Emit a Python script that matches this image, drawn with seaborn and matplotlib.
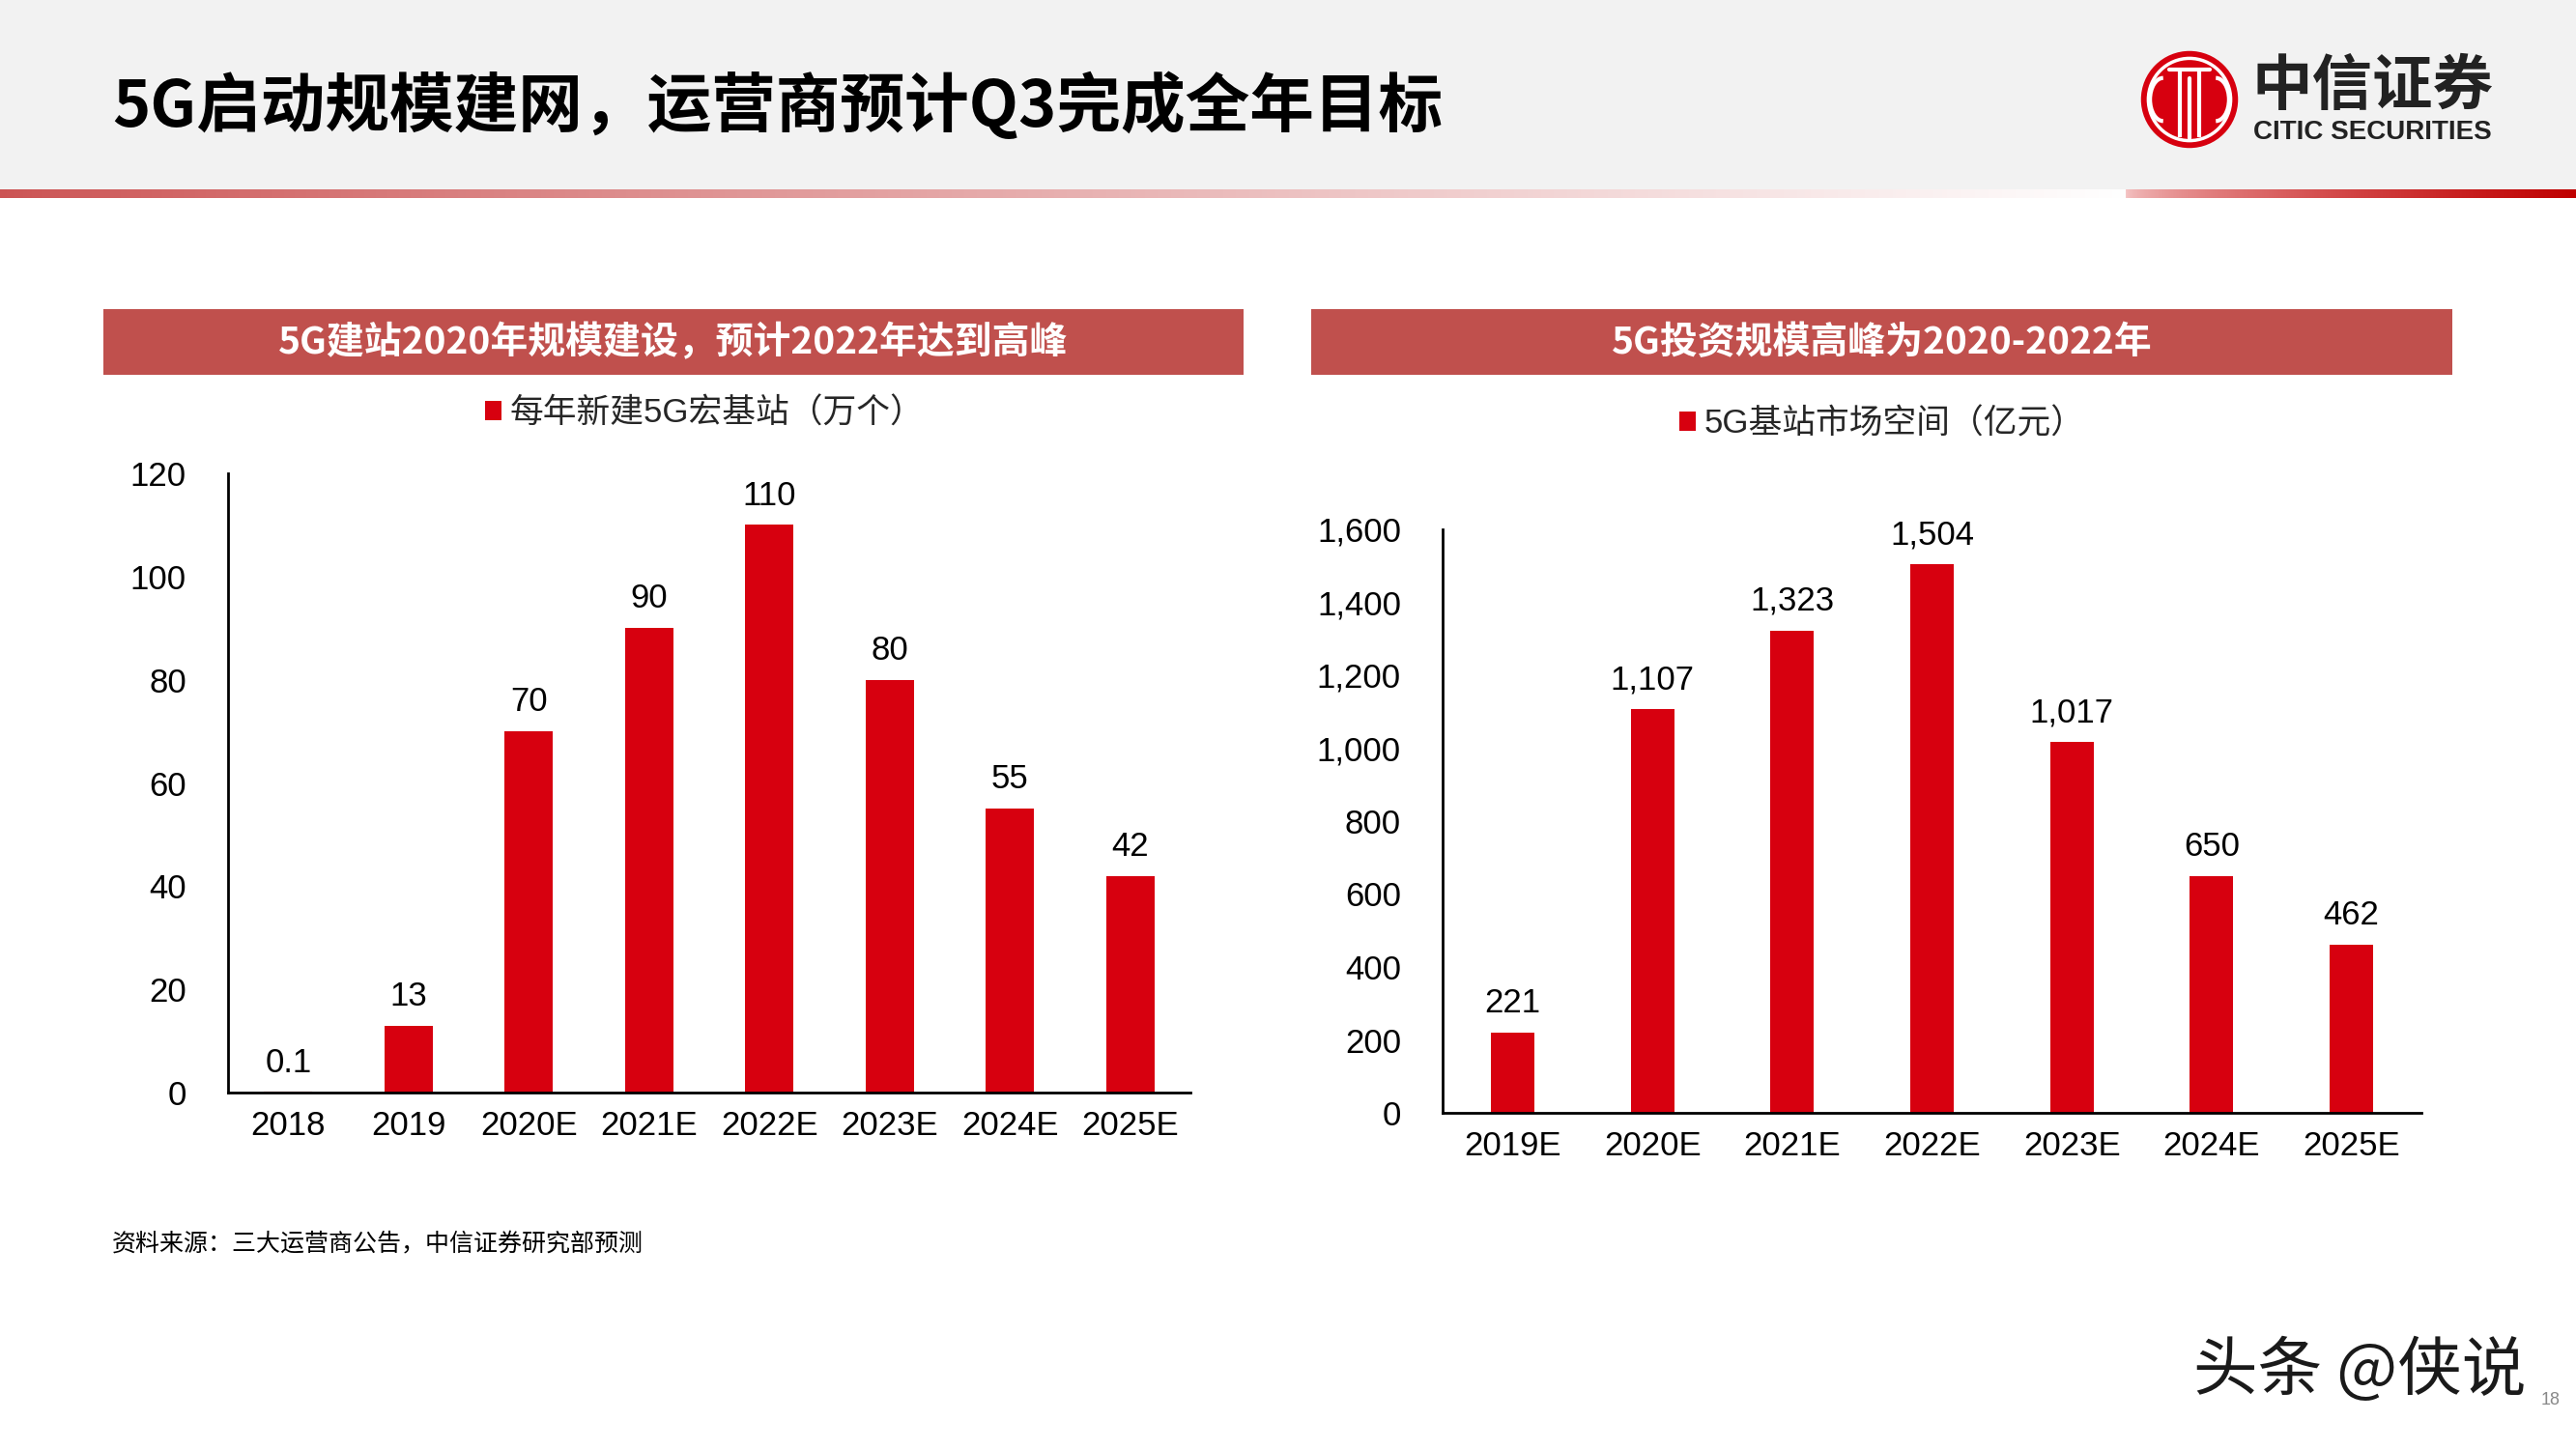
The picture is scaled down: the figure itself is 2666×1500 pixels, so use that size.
import numpy as np
import pandas as pd
import matplotlib
matplotlib.use("Agg")
import matplotlib.pyplot as plt
import seaborn as sns
from matplotlib.patches import Rectangle, Circle, Arc
from matplotlib.ticker import FixedLocator, FuncFormatter

# ---------------- data ----------------
years_left = ['2018', '2019', '2020E', '2021E', '2022E', '2023E', '2024E', '2025E']
stations_new = [0.1, 13, 70, 90, 110, 80, 55, 42]
stations_labels = ['0.1', '13', '70', '90', '110', '80', '55', '42']

years_right = ['2019E', '2020E', '2021E', '2022E', '2023E', '2024E', '2025E']
market_size = [221, 1107, 1323, 1504, 1017, 650, 462]

left_ticks = [0, 20, 40, 60, 80, 100, 120]
right_ticks = [0, 200, 400, 600, 800, 1000, 1200, 1400, 1600]

main_title = '5G启动规模建网，运营商预计Q3完成全年目标'
left_title = '5G建站2020年规模建设，预计2022年达到高峰'
right_title = '5G投资规模高峰为2020-2022年'
left_legend = '每年新建5G宏基站（万个）'
right_legend = '5G基站市场空间（亿元）'
source_note = '资料来源：三大运营商公告，中信证券研究部预测'

RED = '#D7000F'
BAR_TITLE = '#C0504D'

sns.set_style('white')
plt.rcParams['font.family'] = ['Liberation Sans', 'Noto Sans CJK SC', 'DejaVu Sans']
plt.rcParams['axes.unicode_minus'] = False

W, H = 2666, 1500
fig = plt.figure(figsize=(W / 100, H / 100), dpi=100)
fig.patch.set_facecolor('white')

def fx(px):
    return px / W

def fy(py):
    return 1 - py / H

# ---------------- header ----------------
fig.patches.append(Rectangle((0, fy(196)), 1, 196 / H, transform=fig.transFigure,
                             facecolor='#F2F2F2', edgecolor='none', zorder=-5))
ax_s = fig.add_axes([0, fy(205), 1, 9 / H])
xs = np.arange(W)
grad = np.ones((1, W, 3))
split = 2200
t = np.clip(xs[:split] / split, 0, 1)
start = np.array([0.80, 0.33, 0.33])
for c in range(3):
    grad[0, :split, c] = start[c] + (1 - start[c]) * t ** 0.9
t2 = (xs[split:] - split) / (W - split)
s2 = np.array([0.96, 0.78, 0.78])
e2 = np.array([0.75, 0.0, 0.0])
for c in range(3):
    grad[0, split:, c] = s2[c] + (e2[c] - s2[c]) * t2 ** 0.6
ax_s.imshow(grad, aspect='auto', extent=[0, 1, 0, 1])
ax_s.axis('off')

fig.text(fx(116), fy(110), main_title, fontsize=48, fontweight='bold',
         family=['Noto Sans CJK SC', 'DejaVu Sans'], color='black', ha='left', va='center')

# logo
ax_logo = fig.add_axes([fx(2214), fy(155), 104 / W, 104 / H])
ax_logo.set_zorder(5)
ax_logo.set_xlim(-1.05, 1.05)
ax_logo.set_ylim(-1.05, 1.05)
ax_logo.set_aspect('equal')
ax_logo.axis('off')
ax_logo.add_patch(Circle((0, 0), 1.0, color=RED))
ax_logo.add_patch(Circle((0, 0), 0.86, fill=False, ec='white', lw=2.5))
for xv in (-0.2, 0.2):
    ax_logo.plot([xv, xv], [-0.78, 0.62], color='white', lw=3, solid_capstyle='butt')
ax_logo.plot([-0.42, 0.42], [0.62, 0.62], color='white', lw=3)
ax_logo.plot([0, 0], [-0.8, 0.45], color='white', lw=3)
ax_logo.add_patch(Arc((-0.55, 0), 0.55, 0.9, theta1=90, theta2=270, color='white', lw=3))
ax_logo.add_patch(Arc((0.55, 0), 0.55, 0.9, theta1=-90, theta2=90, color='white', lw=3))

fig.text(fx(2330), fy(90), '中信证券', fontsize=45, fontweight='bold',
         family=['Noto Sans CJK SC'], color='#222222', ha='left', va='center')
fig.text(fx(2332), fy(137), 'CITIC SECURITIES', fontsize=20, fontweight='bold',
         family=['Liberation Sans'], color='#222222', ha='left', va='center')

# ---------------- panel title bars ----------------
for (x0, x1, txt) in [(107, 1287, left_title), (1357, 2538, right_title)]:
    fig.patches.append(Rectangle((fx(x0), fy(388)), (x1 - x0) / W, 68 / H,
                                 transform=fig.transFigure, facecolor=BAR_TITLE,
                                 edgecolor='none', zorder=1))
    fig.text(fx((x0 + x1) / 2), fy(355), txt, fontsize=28, fontweight='bold',
             family=['Noto Sans CJK SC'], color='white', ha='center', va='center', zorder=2)

# ---------------- charts ----------------
def style_axes(ax, n, ticks):
    for sp in ['top', 'right']:
        ax.spines[sp].set_visible(False)
    for sp in ['left', 'bottom']:
        ax.spines[sp].set_color('black')
        ax.spines[sp].set_linewidth(2)
    ax.set_xlim(-0.5, n - 0.5)
    ax.set_ylim(ticks[0], ticks[-1])
    ax.yaxis.set_major_locator(FixedLocator(ticks))
    ax.tick_params(axis='y', which='major', direction='in', length=8.5, width=2,
                   pad=31, labelsize=25, colors='black')
    ax.tick_params(axis='x', which='major', length=0, pad=13, labelsize=25, colors='black')
    ax.xaxis.set_minor_locator(FixedLocator([k - 0.5 for k in range(n + 1)]))
    ax.tick_params(axis='x', which='minor', direction='in', length=8.5, width=2, color='black')
    ax.set_xlabel('')
    ax.set_ylabel('')
    ax.grid(False)
    ax.set_facecolor('none')

ax1 = fig.add_axes([fx(236), fy(1131), (1232 - 236) / W, (1131 - 490) / H])
df1 = pd.DataFrame({'year': years_left, 'value': stations_new})
sns.barplot(data=df1, x='year', y='value', color=RED, saturation=1, width=0.4,
            ax=ax1, label=left_legend, edgecolor='none')
style_axes(ax1, len(years_left), left_ticks)
ax1.bar_label(ax1.containers[0], labels=stations_labels, padding=10, fontsize=25, color='black')
ax1.legend(loc='center', bbox_to_anchor=(fx(729), fy(428)), bbox_transform=fig.transFigure,
           frameon=False, fontsize=25, handlelength=0.5, handleheight=0.5, handletextpad=0.25,
           borderaxespad=0)

ax2 = fig.add_axes([fx(1493), fy(1152), (2506 - 1493) / W, (1152 - 548) / H])
df2 = pd.DataFrame({'year': years_right, 'value': market_size})
sns.barplot(data=df2, x='year', y='value', color=RED, saturation=1, width=0.31,
            ax=ax2, label=right_legend, edgecolor='none')
style_axes(ax2, len(years_right), right_ticks)
ax2.yaxis.set_major_formatter(FuncFormatter(lambda v, p: f'{v:,.0f}'))
ax2.bar_label(ax2.containers[0], labels=[f'{v:,}' for v in market_size], padding=10,
              fontsize=25, color='black')
ax2.legend(loc='center', bbox_to_anchor=(fx(1948), fy(439)), bbox_transform=fig.transFigure,
           frameon=False, fontsize=25, handlelength=0.5, handleheight=0.5, handletextpad=0.25,
           borderaxespad=0)

# ---------------- footer ----------------
fig.text(fx(116), fy(1287), source_note, fontsize=18, family=['Noto Sans CJK SC'],
         color='black', ha='left', va='center')
fig.text(fx(2630), fy(1450), '18', fontsize=13, color='#888888', ha='left', va='center', zorder=1)
fig.text(fx(2270), fy(1420), '头条 @侠说', fontsize=48, family=['Noto Sans CJK SC'],
         color='#1A1A1A', ha='left', va='center', zorder=2)

fig.savefig('out.png', dpi=100, facecolor='white')
